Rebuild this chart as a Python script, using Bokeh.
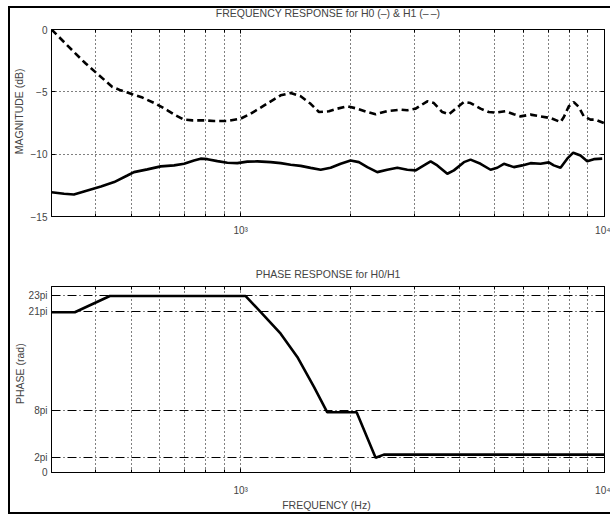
import numpy as np
from bokeh.plotting import figure
from bokeh.models import FixedTicker, LogAxis, LinearAxis, Range1d
from bokeh.layouts import column
from bokeh.embed import file_html
from bokeh.resources import INLINE

# ---------------- data ----------------
freq_h1 = [302, 348, 375, 408, 444, 468, 504, 537, 584, 629, 663, 699, 737, 793, 845, 919,
           1000, 1065, 1135, 1235, 1288, 1372, 1462, 1557, 1641, 1748, 1844, 1964, 2092, 2229,
           2349, 2529, 2752, 2871, 3026, 3258, 3396, 3582, 3735, 3896, 4108, 4284, 4563, 4810,
           5018, 5346, 5633, 5877, 6261, 6671, 7105, 7570, 7732, 7978, 8235, 8502, 8773, 9152,
           9447, 9956]
mag_h1 = [0.0, -1.80, -2.73, -3.67, -4.61, -4.88, -5.20, -5.46, -5.95, -6.48, -6.89, -7.23,
          -7.29, -7.29, -7.34, -7.34, -7.15, -6.75, -6.27, -5.60, -5.28, -5.09, -5.36, -5.96,
          -6.62, -6.56, -6.35, -6.16, -6.35, -6.62, -6.80, -6.54, -6.43, -6.48, -6.35, -5.76,
          -5.90, -6.62, -6.80, -6.35, -5.82, -5.90, -6.35, -6.62, -6.67, -6.56, -6.80, -6.97,
          -6.83, -6.97, -7.10, -7.42, -7.02, -6.16, -5.82, -6.22, -6.97, -7.23, -7.23, -7.50]

freq_h0 = [302, 327, 348, 379, 413, 449, 488, 509, 554, 603, 656, 699, 744, 776, 810, 863,
           919, 979, 1043, 1111, 1209, 1288, 1372, 1462, 1557, 1659, 1767, 1883, 2005, 2113,
           2229, 2374, 2529, 2695, 2871, 3026, 3189, 3327, 3470, 3698, 3855, 4108, 4284, 4563,
           4862, 5073, 5290, 5633, 5941, 6261, 6671, 7031, 7255, 7570, 7898, 8204, 8592, 8964,
           9348, 9856]
mag_h0 = [-13.05, -13.18, -13.23, -12.91, -12.59, -12.24, -11.71, -11.44, -11.22, -10.98,
          -10.90, -10.77, -10.50, -10.36, -10.40, -10.56, -10.69, -10.72, -10.60, -10.58,
          -10.64, -10.72, -10.85, -10.94, -11.10, -11.25, -11.09, -10.77, -10.50, -10.64,
          -11.04, -11.44, -11.25, -11.09, -11.25, -11.30, -10.90, -10.58, -10.90, -11.57,
          -11.30, -10.64, -10.44, -10.77, -11.25, -11.09, -10.77, -11.04, -10.90, -10.72,
          -10.77, -10.66, -10.90, -11.09, -10.36, -9.88, -10.10, -10.56, -10.40, -10.36]

freq_ph = [302, 350, 437, 1032, 1159, 1288, 1431, 1590, 1730, 2083, 2349, 2475, 10000]
phase_rad = [65.5, 65.5, 72.1, 72.1, 64.1, 56.7, 47.2, 35.0, 24.6, 24.6, 6.0, 7.3, 7.3]

x_major = [1000, 10000]
x_minor = [400, 500, 600, 700, 800, 900, 2000, 3000, 4000, 5000, 6000, 7000, 8000, 9000]
x_labels = ["10³", "10⁴"]
mag_ticks = [-15, -10, -5, 0]
phase_mult = [0, 2, 8, 21, 23]
phase_labels = ["0", "2pi", "8pi", "21pi", "23pi"]

FONT = "Liberation Sans"
FS_TICK = "10px"
FS_TEXT = "10.5px"
NB = "\u00a0"


def style(p, title, title_standoff, ylabel, yticks, ylabels=None, xlabel=None,
          ylabel_standoff=1):
    p.background_fill_color = "white"
    p.border_fill_color = None
    p.outline_line_color = "black"
    p.outline_line_width = 1

    ax = p.below[0]
    ax.ticker = FixedTicker(ticks=x_major, minor_ticks=x_minor)
    ax.major_label_overrides = {t: l for t, l in zip(x_major, x_labels)}
    ax.major_tick_in = 4
    ax.major_tick_out = 0
    ax.minor_tick_in = 3
    ax.minor_tick_out = 0
    ax.axis_line_color = "black"
    ax.major_label_text_font = FONT
    ax.major_label_text_font_size = FS_TICK
    if xlabel:
        ax.major_label_standoff = 12
        ax.axis_label = xlabel
        ax.axis_label_text_font = FONT
        ax.axis_label_text_font_size = FS_TEXT
        ax.axis_label_text_font_style = "normal"
        ax.axis_label_standoff = 0
    else:
        ax.major_label_standoff = 8

    ay = p.left[0]
    ay.ticker = FixedTicker(ticks=yticks)
    if ylabels is not None:
        ay.major_label_overrides = {t: l for t, l in zip(yticks, ylabels)}
    ay.major_tick_in = 4
    ay.major_tick_out = 0
    ay.minor_tick_line_color = None
    ay.major_label_text_font = FONT
    ay.major_label_text_font_size = FS_TICK
    ay.major_label_standoff = 4
    ay.axis_label = ylabel
    ay.axis_label_text_font = FONT
    ay.axis_label_text_font_size = FS_TEXT
    ay.axis_label_text_font_style = "normal"
    ay.axis_label_standoff = ylabel_standoff

    # top frame edge: inward ticks, no labels; its axis label is the panel title
    top = LogAxis(ticker=FixedTicker(ticks=x_major, minor_ticks=x_minor),
                  major_label_text_font_size="1px", major_label_text_color=None,
                  major_label_standoff=0,
                  major_tick_in=4, major_tick_out=0, minor_tick_in=3, minor_tick_out=0,
                  axis_label=title, axis_label_text_font=FONT,
                  axis_label_text_font_size=FS_TEXT, axis_label_text_font_style="normal",
                  axis_label_standoff=title_standoff)
    p.add_layout(top, "above")
    right = LinearAxis(ticker=FixedTicker(ticks=yticks),
                       major_label_text_font_size="1px", major_label_text_color=None,
                       major_label_standoff=0,
                       major_tick_in=4, major_tick_out=0, minor_tick_line_color=None)
    p.add_layout(right, "right")

    p.xgrid.grid_line_color = "black"
    p.xgrid.grid_line_dash = "1 3"
    p.xgrid.minor_grid_line_color = "black"
    p.xgrid.minor_grid_line_dash = "1 3"
    p.ygrid.grid_line_color = "black"


p1 = figure(width=602, height=248, x_axis_type="log",
            x_range=Range1d(302, 10000), y_range=Range1d(-15, 0),
            output_backend="svg", toolbar_location=None,
            min_border_left=43, min_border_right=6, min_border_top=27, min_border_bottom=34)
style(p1, "FREQUENCY RESPONSE for H0 (–) & H1 (–\u2009–)", 11,
      NB * 8 + "MAGNITUDE (dB)", mag_ticks, ylabel_standoff=3)
p1.ygrid.grid_line_dash = "1 3"
p1.line(freq_h1, mag_h1, line_color="black", line_width=2.6, line_dash="7 4")
p1.line(freq_h0, mag_h0, line_color="black", line_width=2.6)

phase_ticks = [float(m * np.pi) for m in phase_mult]
p2 = figure(width=602, height=264, x_axis_type="log",
            x_range=Range1d(302, 10000), y_range=Range1d(0, 76),
            output_backend="svg", toolbar_location=None,
            min_border_left=43, min_border_right=6, min_border_top=36, min_border_bottom=42)
style(p2, "PHASE RESPONSE for H0/H1", 7, NB * 5 + "PHASE  (rad)", phase_ticks,
      phase_labels, xlabel="FREQUENCY  (Hz)", ylabel_standoff=0)
p2.ygrid.grid_line_dash = "9 3 1 3"
p2.line(freq_ph, phase_rad, line_color="black", line_width=2.6)

frame_border = ("inset 0 4px 0 0 white, inset 0 6px 0 0 black, "
                "inset 2px 0 0 0 black, inset 0 -2px 0 0 black")
layout = column(p1, p2, spacing=0, margin=(2, 0, 0, 8),
                styles={"box-shadow": frame_border, "background-color": "white"})

open("out.html", "w").write(file_html(layout, INLINE))
